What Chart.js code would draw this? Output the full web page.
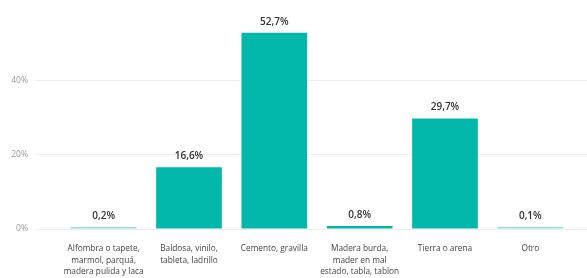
<!DOCTYPE html>
<html>
<head>
<meta charset="utf-8">
<script src="https://cdn.jsdelivr.net/npm/chart.js@4"></script>
<style>
  html, body { margin: 0; padding: 0; background: #ffffff; }
  #wrap { width: 587px; height: 278px; position: relative; }
</style>
</head>
<body>
<div id="wrap"><canvas id="floorChart"></canvas></div>
<script>
/* ── Data ── */
const categories = [
  ['Alfombra o tapete,', 'marmol, parquá,', 'madera pulida y laca'],
  ['Baldosa, vinilo,', 'tableta, ladrillo'],
  'Cemento, gravilla',
  ['Madera burda,', 'mader en mal', 'estado, tabla, tablon'],
  'Tierra o arena',
  'Otro'
];
const shares     = [0.2, 16.6, 52.7, 0.8, 29.7, 0.1];
const yTickVals  = [0, 20, 40];

const FONT = "'Open Sans', sans-serif";
const TEAL = '#01B8AA';
const GRID = '#eeeeee';

/* ── Value labels above bars ── */
const valueLabels = {
  id: 'valueLabels',
  afterDatasetsDraw(chart) {
    const { ctx } = chart;
    const meta = chart.getDatasetMeta(0);
    ctx.save();
    ctx.font = `600 10px ${FONT}`;
    ctx.fillStyle = '#333333';
    ctx.textAlign = 'center';
    ctx.textBaseline = 'middle';
    meta.data.forEach((bar, i) => {
      const txt = shares[i].toFixed(1).replace('.', ',') + '%';
      ctx.fillText(txt, bar.x, bar.y - 11);
    });
    ctx.restore();
  }
};

new Chart(document.getElementById('floorChart'), {
  type: 'bar',
  data: {
    labels: categories,
    datasets: [{
      data: shares,
      // very thin bars show up lighter in the original
      backgroundColor: c => (c.raw < 0.5 ? 'rgba(1,184,170,0.45)' : TEAL),
      borderWidth: 0,
      minBarLength: 2,
      barPercentage: 0.77,
      categoryPercentage: 1.0
    }]
  },
  options: {
    responsive: true,
    maintainAspectRatio: false,
    animation: false,
    layout: { padding: { top: 11, left: 0, right: 0, bottom: 0 } },
    plugins: { legend: { display: false }, tooltip: { enabled: false } },
    scales: {
      x: {
        grid: { display: false },
        border: { display: false },
        afterFit: s => { s.height = 49; },
        ticks: {
          maxRotation: 0,
          autoSkip: false,
          padding: 6,
          color: '#444444',
          font: { family: FONT, size: 8.3, lineHeight: 1.38 }
        }
      },
      y: {
        position: 'left',
        min: 0,
        max: 58,
        afterFit: s => { s.width = 61; },
        afterBuildTicks: s => { s.ticks = yTickVals.map(v => ({ value: v })); },
        border: { display: false },
        grid: { color: GRID, lineWidth: 1, tickLength: 25, tickColor: GRID },
        ticks: {
          padding: 8,
          color: '#9a9a9a',
          font: { family: FONT, size: 8.5 },
          callback: v => v + '%'
        }
      },
      yRight: {
        position: 'right',
        min: 0,
        max: 58,
        afterFit: s => { s.width = 14; },
        afterBuildTicks: s => { s.ticks = yTickVals.map(v => ({ value: v })); },
        border: { display: false },
        grid: { drawOnChartArea: false, color: GRID, tickLength: 14, tickColor: GRID },
        ticks: { display: false }
      }
    }
  },
  plugins: [valueLabels]
});
</script>
</body>
</html>
